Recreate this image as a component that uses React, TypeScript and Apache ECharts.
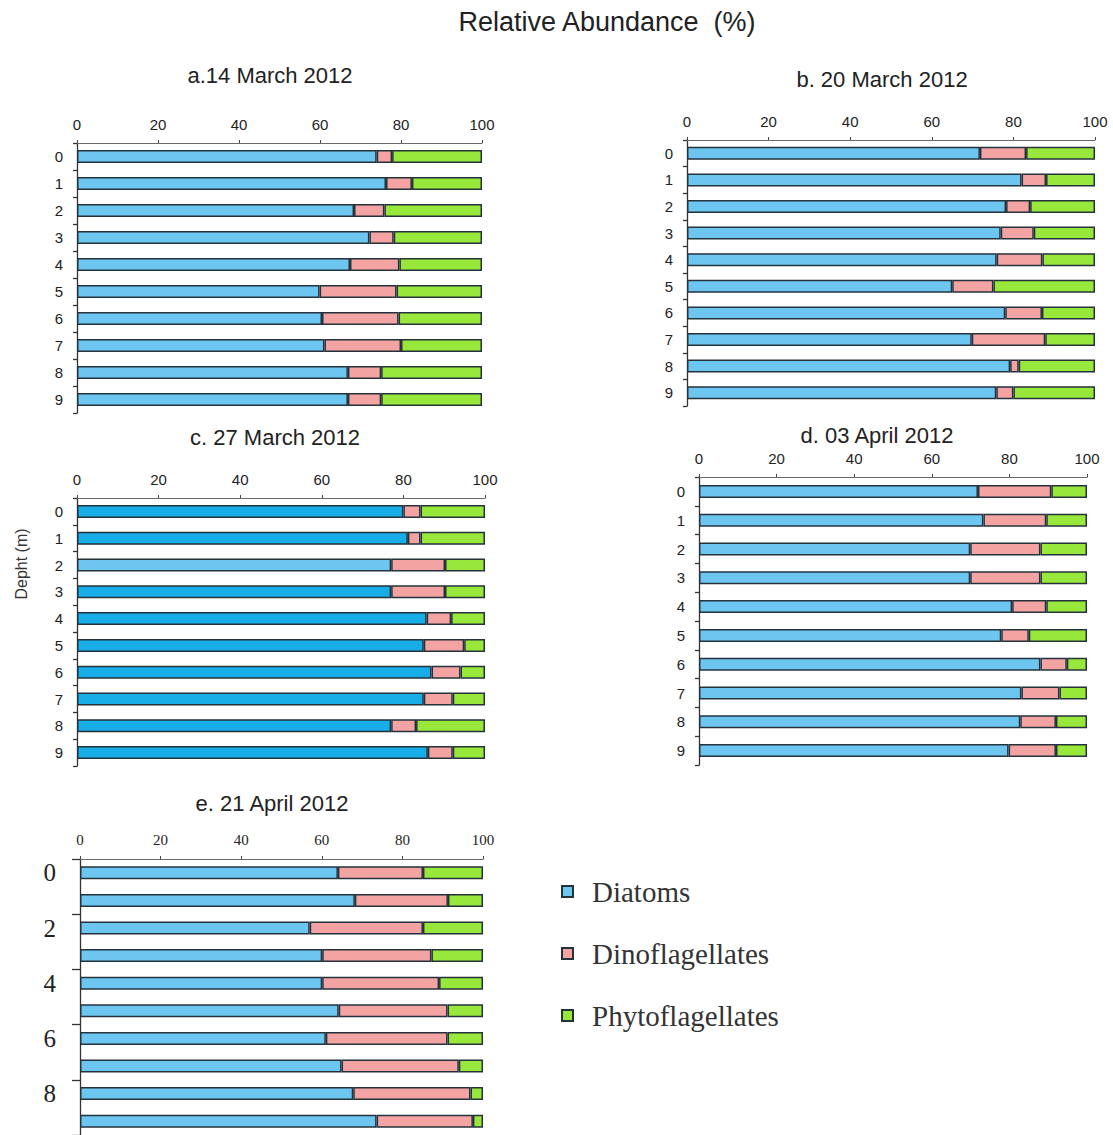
import React, { useEffect, useRef } from "react";
import * as echarts from "echarts";

const depths = ["0", "1", "2", "3", "4", "5", "6", "7", "8", "9"];
const xTicks = [0, 20, 40, 60, 80, 100];

const panelTitles = ["a.14 March 2012", "b. 20 March 2012", "c. 27 March 2012", "d. 03 April 2012", "e. 21 April 2012"];
const seriesNames = ["Diatoms", "Dinoflagellates", "Phytoflagellates"];

// a. 14 March 2012
const diatomsA = [74.0, 76.3, 68.4, 72.2, 67.4, 59.9, 60.5, 61.1, 66.9, 66.9];
const dinoA = [3.8, 6.4, 7.5, 6.0, 12.2, 19.0, 18.9, 18.9, 8.2, 8.2];
const phytoA = [22.2, 17.3, 24.1, 21.8, 20.4, 21.1, 20.6, 20.0, 24.9, 24.9];

// b. 20 March 2012
const diatomsB = [71.8, 82.0, 78.2, 76.9, 75.9, 65.0, 78.0, 69.8, 79.2, 75.8];
const dinoB = [11.3, 6.0, 5.9, 8.1, 11.2, 10.1, 9.0, 18.0, 2.1, 4.2];
const phytoB = [16.9, 12.0, 15.9, 15.0, 12.9, 24.9, 13.0, 12.2, 18.7, 20.0];

// c. 27 March 2012
const diatomsC = [80.0, 81.1, 77.0, 77.0, 85.7, 85.0, 86.9, 85.0, 77.0, 86.0];
const dinoC = [4.2, 3.1, 13.2, 13.2, 6.0, 9.9, 7.1, 7.1, 6.1, 6.1];
const phytoC = [15.8, 15.8, 9.8, 9.8, 8.3, 5.1, 6.0, 7.9, 16.9, 7.9];

// d. 03 April 2012
const diatomsD = [71.9, 73.3, 69.9, 69.9, 80.7, 77.9, 88.0, 83.1, 82.8, 79.8];
const dinoD = [18.9, 16.2, 18.1, 18.1, 8.8, 7.1, 6.8, 9.8, 9.2, 12.2];
const phytoD = [9.2, 10.5, 12.0, 12.0, 10.5, 15.0, 5.2, 7.1, 8.0, 8.0];

// e. 21 April 2012
const diatomsE = [64.0, 68.2, 57.0, 60.1, 60.1, 64.2, 61.0, 64.9, 67.8, 73.6];
const dinoE = [21.1, 23.1, 28.1, 27.1, 29.0, 27.0, 30.2, 29.1, 29.1, 23.9];
const phytoE = [14.9, 8.7, 14.9, 12.8, 10.9, 8.8, 8.8, 6.0, 3.1, 2.5];

const panelData = [
  [diatomsA, dinoA, phytoA],
  [diatomsB, dinoB, phytoB],
  [diatomsC, dinoC, phytoC],
  [diatomsD, dinoD, phytoD],
  [diatomsE, dinoE, phytoE],
];

// layout (positions/sizes only)
const layout = [
  { left: 77, top: 143, width: 405, height: 270, bar: 13, title: [270, 75], serif: false },
  { left: 687, top: 140, width: 408, height: 266, bar: 13, title: [882, 79], serif: false },
  { left: 77, top: 498, width: 408, height: 268, bar: 13, title: [275, 437], serif: false },
  { left: 699, top: 477, width: 388, height: 288, bar: 13, title: [877, 435], serif: false },
  { left: 80, top: 859, width: 403, height: 276, bar: 13, title: [272, 803], serif: true },
];

const COLORS = ["#6dc6f0", "#f4a3a3", "#98e83c"];
const DARK_BLUE = "#17ade6";
const SANS = "'Liberation Sans', Arial, sans-serif";
const SERIF = "'Liberation Serif', 'Times New Roman', serif";

export default function App() {
  const ref = useRef<HTMLDivElement>(null);
  useEffect(() => {
    if (!ref.current) return;
    const chart = echarts.init(ref.current, undefined, { renderer: "svg" });
    const grid: any[] = [];
    const xAxis: any[] = [];
    const yAxis: any[] = [];
    const series: any[] = [];
    layout.forEach((L, i) => {
      grid.push({ left: L.left, top: L.top, width: L.width, height: L.height, containLabel: false });
      xAxis.push({
        type: "value",
        gridIndex: i,
        position: "top",
        min: xTicks[0],
        max: xTicks[xTicks.length - 1],
        interval: xTicks[1] - xTicks[0],
        splitLine: { show: false },
        axisLine: { show: true, lineStyle: { color: "#6a6a6a", width: 1.2 } },
        axisTick: { show: true, length: 3, lineStyle: { color: "#444" } },
        axisLabel: {
          color: "#222",
          fontFamily: L.serif ? SERIF : SANS,
          fontSize: 15,
          margin: L.serif ? 12 : 11,
        },
      });
      yAxis.push({
        type: "category",
        gridIndex: i,
        data: depths,
        inverse: true,
        axisLine: { show: true, lineStyle: { color: "#333", width: 1.3 } },
        axisTick: { show: true, length: L.serif ? 8 : 4, lineStyle: { color: "#333", width: 1.3 } },
        axisLabel: {
          color: "#222",
          fontFamily: L.serif ? SERIF : SANS,
          fontSize: L.serif ? 25 : 15,
          margin: L.serif ? 24 : 14,
          interval: L.serif ? 1 : 0,
        },
      });
      panelData[i].forEach((vals, k) => {
        series.push({
          type: "bar",
          name: seriesNames[k],
          xAxisIndex: i,
          yAxisIndex: i,
          stack: "p" + i,
          barWidth: L.bar,
          itemStyle: { color: COLORS[k], borderColor: "#24323c", borderWidth: 1.5 },
          data:
            i === 2 && k === 0
              ? vals.map((v, r) => ({ value: v, itemStyle: { color: r === 2 ? COLORS[0] : DARK_BLUE } }))
              : vals,
        });
      });
    });
    const graphic: any[] = [
      {
        type: "text",
        x: 607,
        y: 22,
        style: { text: "Relative Abundance  (%)", fontSize: 27, fontFamily: SANS, fill: "#222", textAlign: "center", textVerticalAlign: "middle" },
      },
      {
        type: "text",
        x: 21,
        y: 564,
        rotation: Math.PI / 2,
        style: { text: "Depht (m)", fontSize: 16, fontFamily: SANS, fill: "#333", textAlign: "center", textVerticalAlign: "middle" },
      },
      ...layout.map((L, i) => ({
        type: "text",
        x: L.title[0],
        y: L.title[1],
        style: { text: panelTitles[i], fontSize: 22, fontFamily: SANS, fill: "#222", textAlign: "center", textVerticalAlign: "middle" },
      })),
    ];
    chart.setOption({
      animation: false,
      backgroundColor: "#ffffff",
      grid,
      xAxis,
      yAxis,
      series,
      graphic,
      legend: {
        data: seriesNames,
        orient: "vertical",
        left: 556,
        top: 872,
        itemWidth: 11,
        itemHeight: 11,
        itemGap: 33,
        icon: "rect",
        textStyle: { fontFamily: SERIF, fontSize: 29, color: "#333", padding: [0, 0, 0, 14] },
      },
    });
    return () => chart.dispose();
  }, []);
  return <div ref={ref} style={{ position: "fixed", left: 0, top: 0, width: 1113, height: 1135 }} />;
}
